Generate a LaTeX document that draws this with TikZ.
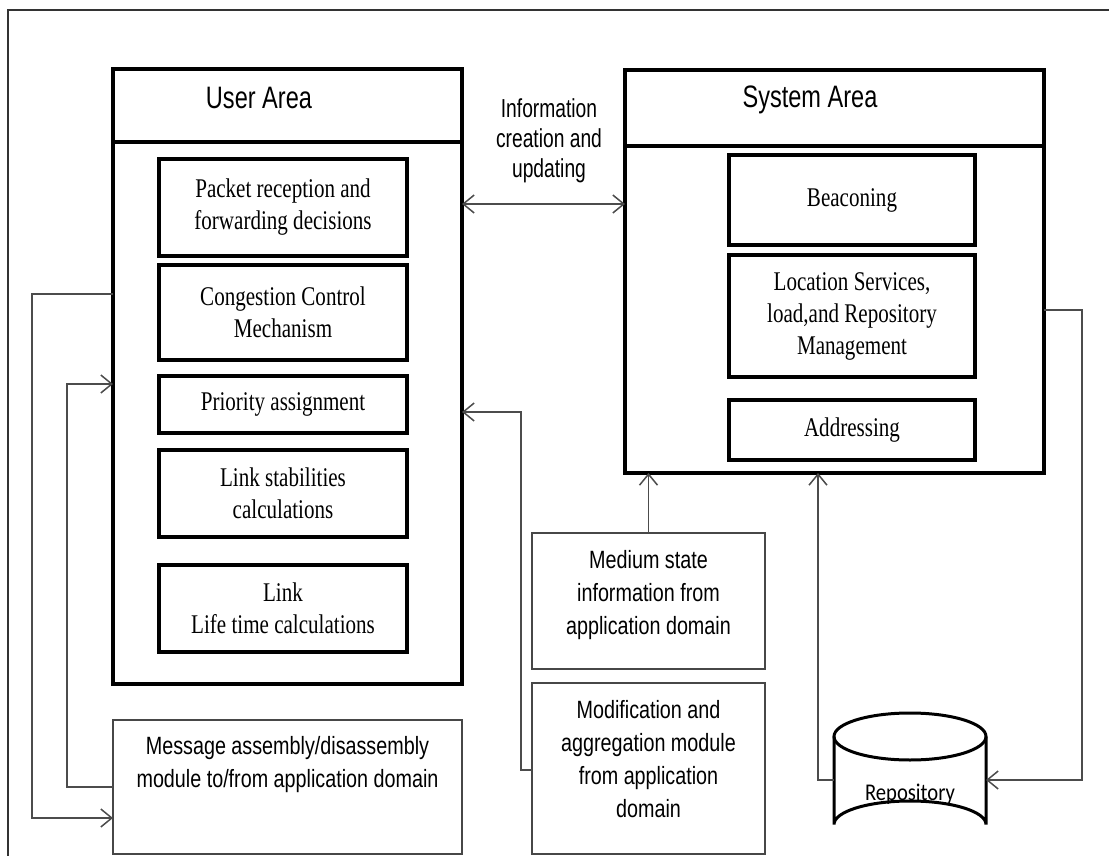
\documentclass[tikz,border=0pt]{standalone}
\usepackage{fontspec}
\usetikzlibrary{arrows.meta,calc}
\setmainfont{Liberation Serif}
\newfontfamily\hdsans[FakeStretch=0.76]{Liberation Sans}
\newfontfamily\infosans[FakeStretch=0.74]{Liberation Sans}
\newfontfamily\modsans[FakeStretch=0.79]{Liberation Sans}
\newfontfamily\txtserif[FakeStretch=0.78]{Liberation Serif}
\newfontfamily\repofont[FakeStretch=0.86]{Carlito}

\begin{document}
\begin{tikzpicture}[x=1pt,y=-1pt,
  area/.style={draw=black,line width=4pt,rectangle,inner sep=0pt,outer sep=0pt},
  task/.style={draw=black,line width=3.5pt,rectangle,inner sep=0pt,outer sep=0pt,
    align=center,font=\txtserif\fontsize{27}{32}\selectfont},
  module/.style={draw=black!72,line width=1.6pt,rectangle,inner sep=0pt,outer sep=0pt,
    align=center,font=\modsans\fontsize{25}{33}\selectfont},
  title/.style={font=\hdsans\fontsize{31}{36}\selectfont,anchor=base},
  link/.style={draw=black!70,line width=1.5pt,-{Straight Barb[length=11pt,width=18pt]}},
  cyl/.style={draw=black,line width=3pt},
]
% page
\clip (0,0) rectangle (1109,856);
\fill[white] (0,0) rectangle (1109,856);
\draw[black!80,line width=2pt] (8,10) rectangle (1200,1000);

% user area
\node[area,minimum width=349pt,minimum height=73pt] (uahead) at (287.5,105.5) {};
\node[area,minimum width=349pt,minimum height=542pt] (uabody) at (287.5,413) {};
\node[title] (uatitle) at (259,109) {User Area};
\node[task,minimum width=248pt,minimum height=97pt] (pkt) at (283,207.5) {Packet reception and\\forwarding decisions};
\node[task,minimum width=248pt,minimum height=95pt] (cong) at (283,312.5) {Congestion Control\\Mechanism};
\node[task,minimum width=248pt,minimum height=57pt] (prio) at (283,404.5) {Priority assignment};
\node[task,minimum width=248pt,minimum height=87pt] (stab) at (283,493.5) {Link stabilities\\calculations};
\node[task,minimum width=248pt,minimum height=87pt] (life) at (283,608.5) {Link\\Life time calculations};

% system area
\node[area,minimum width=419pt,minimum height=76pt] (sahead) at (834.5,108) {};
\node[area,minimum width=419pt,minimum height=327pt] (sabody) at (834.5,309.5) {};
\node[title] (satitle) at (810,108) {System Area};
\node[task,minimum width=246pt,minimum height=90pt] (beac) at (852,200) {Beaconing};
\node[task,minimum width=246pt,minimum height=122pt] (loc) at (852,316) {Location Services,\\load,and Repository\\Management};
\node[task,minimum width=246pt,minimum height=60pt] (addr) at (852,430) {Addressing};

% exchange between the two areas
\node[font=\infosans\fontsize{26}{30}\selectfont,align=center] (info) at (549,141) {Information\\creation and\\updating};
\draw[link,{Straight Barb[length=11pt,width=18pt]}-{Straight Barb[length=11pt,width=18pt]}]
  (uabody.east |- 0,204) -- (sabody.west |- 0,204);

% application-domain modules (text sits in the upper part of each box)
\node[module,minimum width=349pt,minimum height=134pt,text height=50pt,text depth=50pt] (msg) at (287.5,787)
  {Message assembly/disassembly\\module to/from application domain};
\node[module,minimum width=233pt,minimum height=136pt,text height=76pt,text depth=10pt] (med) at (648.5,601)
  {Medium state\\information from\\application domain};
\node[module,minimum width=233pt,minimum height=171pt,text height=110pt,text depth=13pt] (mod) at (648.5,768.5)
  {Modification and\\aggregation module\\from application\\domain};

% repository
\node[font=\repofont\fontsize{24}{28}\selectfont,minimum width=152pt,minimum height=135pt,
  inner sep=0pt,outer sep=0pt,text height=39pt,text depth=0pt] (repo) at (910,780.5) {Repository};
\draw[cyl] ($(repo.north)+(0,23.5)$) ellipse [x radius=76, y radius=23.5];
\draw[cyl] ($(repo.north west)+(0,23.5)$) -- ($(repo.south west)+(0,-23.5)$)
  arc [start angle=180, end angle=360, x radius=76, y radius=23.5] -- ($(repo.north east)+(0,23.5)$);

% connectors
\draw[link] (uabody.west |- 0,294) -| (32,818) -- (msg.west |- 0,818);
\draw[link] (msg.west |- 0,787) -| (67,384) -- (uabody.west |- 0,384);
\draw[link] (mod.west |- 0,770) -| (521,412) -- (uabody.east |- 0,412);
\draw[link] (med.north) -- (med.north |- sabody.south);
\draw[link] (repo.west |- 0,780) -| (sabody.south -| 818,0);
\draw[link] (sabody.east |- 0,310) -| (1082,780) -- (repo.east |- 0,780);
\end{tikzpicture}
\end{document}
